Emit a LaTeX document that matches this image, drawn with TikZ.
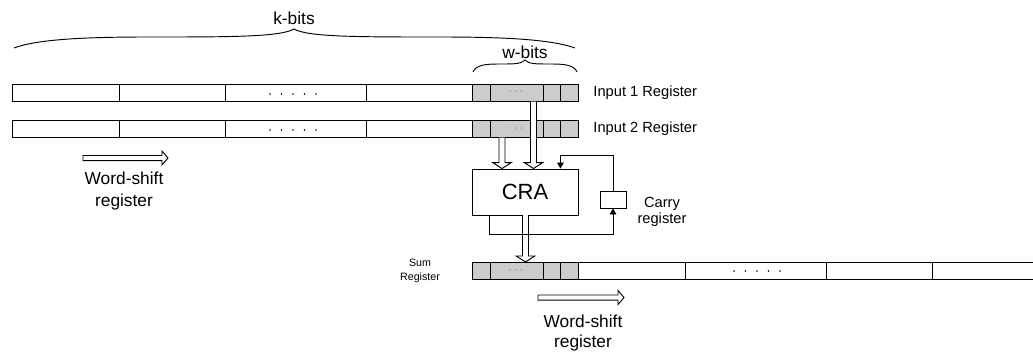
\documentclass[tikz,border=0pt]{standalone}
\usepackage{fontspec}
\setmainfont{Liberation Sans}
\usetikzlibrary{arrows.meta,calc}
\definecolor{cellgray}{HTML}{CCCCCC}
\definecolor{dotgray}{HTML}{808080}
\begin{document}
\begin{tikzpicture}[x=0.75pt,y=-0.75pt,
  line width=0.7pt,
  wcell/.style={draw=black, fill=white},
  gcell/.style={draw=black, fill=cellgray},
  bracepath/.style={draw=black, line width=0.7pt},
  vh/.style={draw=black, fill=white, line join=miter,
    to path={let \p1=(\tikztostart), \p2=(\tikztotarget) in
      (\x1-2.25pt,\y1) -- (\x1-2.25pt,\y2+4.5pt) -- (\x1-7pt,\y2+4.5pt) -- (\x1,\y2)
      -- (\x1+7pt,\y2+4.5pt) -- (\x1+2.25pt,\y2+4.5pt) -- (\x1+2.25pt,\y1)}},
  hh/.style={draw=black, fill=white, line join=miter,
    to path={let \p1=(\tikztostart), \p2=(\tikztotarget) in
      (\x1,\y1+1.9pt) -- (\x2-4.5pt,\y1+1.9pt) -- (\x2-4.5pt,\y1+5.25pt) -- (\x2,\y1)
      -- (\x2-4.5pt,\y1-5.25pt) -- (\x2-4.5pt,\y1-1.9pt) -- (\x1,\y1-1.9pt) -- cycle}},
  fb/.style={draw=black, -{Triangle[width=5pt,length=4.5pt]}},
  lbl/.style={inner sep=0pt},
  bigbox/.style={draw=black, fill=white, inner sep=0pt, font=\fontsize{16.5}{18}\selectfont},
  smallbox/.style={draw=black, fill=white, inner sep=0pt}
]
\useasboundingbox (0,0) rectangle (1033,354);

% ---------- Input 1 register ----------
\foreach \a/\b in {12/119,119/225,225/366,366/472}
  \draw[wcell] (\a,84.5) rectangle (\b,101.5);
\foreach \a/\b in {472/490,490/543,543/560,560/578}
  \draw[gcell] (\a,84.5) rectangle (\b,101.5);
% ---------- Input 2 register ----------
\foreach \a/\b in {12/119,119/225,225/366,366/472}
  \draw[wcell] (\a,120.5) rectangle (\b,137.5);
\foreach \a/\b in {472/490,490/543,543/560,560/578}
  \draw[gcell] (\a,120.5) rectangle (\b,137.5);
% ---------- Sum register ----------
\foreach \a/\b in {472/490,490/543,543/560,560/578}
  \draw[gcell] (\a,262) rectangle (\b,279);
\draw[black] (578,262) -- (1033,262) (578,279) -- (1033,279);
\foreach \a in {685,826,932}
  \draw[black] (\a,262) -- (\a,279);

% dots
\foreach \i in {0,...,4} {
  \fill (270+11.5*\i,94) circle (0.7pt);
  \fill (270+11.5*\i,130) circle (0.7pt);
  \fill (734+11.5*\i,271) circle (0.7pt);
}
\foreach \i in {0,1,2} {
  \fill[dotgray] (510+5.7*\i,91) circle (0.45pt);
  \fill[dotgray] (510+5.7*\i,128) circle (0.45pt);
  \fill[dotgray] (510+5.7*\i,269.5) circle (0.45pt);
}

% ---------- braces ----------
\draw[bracepath] (14,48) .. controls (40,38) and (100,37) .. (150,37)
  .. controls (230,37) and (280,37) .. (294,29)
  .. controls (308,37) and (358,37) .. (438,37)
  .. controls (488,37) and (548,38) .. (575,48);
\draw[bracepath] (473,72) .. controls (476,65) and (485,64) .. (499,64)
  .. controls (515,64) and (521,64) .. (525,60)
  .. controls (529,64) and (535,64) .. (551,64)
  .. controls (565,64) and (574,65) .. (577,72);

% ---------- labels ----------
\node[lbl, font=\fontsize{13}{15}\selectfont] (kbits) at (294,18) {k-bits};
\node[lbl, font=\fontsize{13}{15}\selectfont] (wbits) at (525,52) {w-bits};
\node[lbl, anchor=west, font=\fontsize{11}{13}\selectfont] (lin1) at (593,93) {Input 1 Register};
\node[lbl, anchor=west, font=\fontsize{11}{13}\selectfont] (lin2) at (593,129) {Input 2 Register};
\node[lbl, align=center, font=\fontsize{13}{16.5}\selectfont] (ws1) at (124,191) {Word-shift\\register};
\node[lbl, align=center, font=\fontsize{13}{15}\selectfont] (ws2) at (583,333) {Word-shift\\register};
\node[lbl, align=center, font=\fontsize{11}{12}\selectfont] (carrylbl) at (662,212) {Carry\\register};
\node[lbl, align=center, font=\fontsize{8}{10.5}\selectfont] (sumlbl) at (420,271) {Sum\\Register};

% ---------- blocks ----------
\node[bigbox, minimum width=79.5pt, minimum height=34.5pt] (cra) at (525,192) {CRA};
\node[smallbox, minimum width=19.5pt, minimum height=12.75pt] (carry) at (613,199.5) {};

% ---------- coordinates ----------
\coordinate (a1) at (502,137.5);
\coordinate (a2) at (533.5,101.5);
\coordinate (a3) at (525.5,215);
\coordinate (sumtop) at (525.5,262);
\coordinate (w1s) at (83,158);
\coordinate (w1e) at (168,158);
\coordinate (w2s) at (538,297.5);
\coordinate (w2e) at (624,297.5);

% ---------- hollow arrows ----------
\draw[vh] (a1) to (a1 |- cra.north);
\draw[vh] (a2) to (a2 |- cra.north);
\draw[vh] (a3) to (sumtop);
\draw[hh] (w1s) to (w1e);
\draw[hh] (w2s) to (w2e);

% ---------- carry feedback ----------
\draw[fb] ([xshift=13.5pt]cra.south west) -- ++(0,19) -| (carry.south);
\draw[fb] (carry.north) -- ++(0,-35) -| ([xshift=-13.5pt]cra.north east);
\end{tikzpicture}
\end{document}
